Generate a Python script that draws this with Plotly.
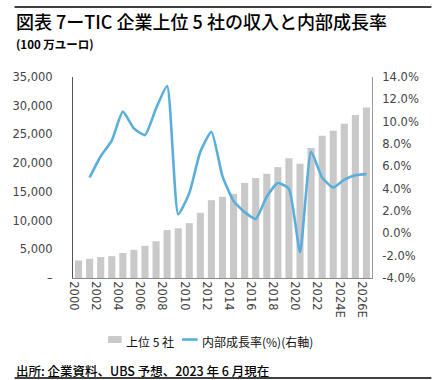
import plotly.graph_objects as go

years = ["2000","2001","2002","2003","2004","2005","2006","2007","2008","2009",
         "2010","2011","2012","2013","2014","2015","2016","2017","2018","2019",
         "2020","2021","2022","2023","2024E","2025E","2026E"]
revenue = [3050, 3350, 3650, 3800, 4350, 4900, 5600, 6400, 8350, 8650,
           9550, 11350, 13550, 14150, 14650, 16550, 17400, 18150, 19300, 20850,
           19900, 22650, 24750, 25650, 26850, 28400, 29700]
growth_years = years[1:]
growth = [5.0, 6.9, 8.3, 10.9, 9.4, 8.8, 11.2, 13.2, 1.7, 3.6,
          7.3, 9.1, 5.1, 2.9, 1.9, 1.3, 3.3, 4.5, 4.0, -1.7,
          7.3, 5.0, 4.1, 4.8, 5.2, 5.3]
left_ticks = [0, 5000, 10000, 15000, 20000, 25000, 30000, 35000]
left_labels = ["–", "5,000", "10,000", "15,000", "20,000", "25,000", "30,000", "35,000"]
right_ticks = [-4, -2, 0, 2, 4, 6, 8, 10, 12, 14]
right_labels = ["-4.0%", "-2.0%", "0.0%", "2.0%", "4.0%", "6.0%", "8.0%", "10.0%", "12.0%", "14.0%"]
shown_years = years[::2]
bar_name = "上位 5 社"
line_name = "内部成長率(%)(右軸)"

W, H = 443, 380
L, R, T, B = 65, 372, 77, 278
def px(x): return (x - L) / (R - L)
def py(y): return (B - y) / (B - T)

FONT = "Noto Sans CJK JP"
TICKFONT = dict(family="DejaVu Sans", size=11.5, color="#444444")
BAR_COLOR = "#c9c9c9"
LINE_COLOR = "#5aaedc"

fig = go.Figure()
fig.add_trace(go.Bar(x=years, y=revenue, name=bar_name, marker_color=BAR_COLOR,
                     marker_line_width=0, yaxis="y"))
fig.add_trace(go.Scatter(x=growth_years, y=growth, name=line_name, mode="lines",
                         line=dict(color=LINE_COLOR, width=2.6, shape="spline", smoothing=0.5),
                         yaxis="y2"))

fig.update_layout(
    width=W, height=H,
    margin=dict(l=L, r=W - R, t=T, b=H - B),
    paper_bgcolor="white", plot_bgcolor="white",
    font=dict(family=FONT, size=11, color="#404040"),
    bargap=0.36,
    showlegend=False,
    xaxis=dict(type="category", tickmode="array", tickvals=shown_years, ticktext=shown_years,
               tickangle=90, showline=True, linecolor="#888888", linewidth=1,
               showgrid=False, ticks="", tickfont=TICKFONT, ticklabelshift=-5),
    yaxis=dict(range=[0, 35000], tickvals=left_ticks, ticktext=left_labels,
               showline=True, linecolor="#555555", linewidth=1, showgrid=False,
               zeroline=False, ticks="outside", ticklen=17, tickcolor="rgba(0,0,0,0)",
               tickfont=TICKFONT),
    yaxis2=dict(range=[-4, 14], tickvals=right_ticks, ticktext=right_labels,
                overlaying="y", side="right", showline=True, linecolor="#999999",
                linewidth=1, showgrid=False, zeroline=False, ticks="outside", ticklen=7,
                tickcolor="rgba(0,0,0,0)", tickfont=TICKFONT),
)

annotations = [
    dict(text="図表 7ーTIC 企業上位 5 社の収入と内部成長率", x=px(4), y=py(21),
         font=dict(size=18, color="#000000", family=FONT, weight=500)),
    dict(text="<b>(100 万ユーロ)</b>", x=px(4), y=py(44),
         font=dict(size=11.5, color="#000000", family=FONT)),
    dict(text="出所: 企業資料、UBS 予想、2023 年 6 月現在", x=px(4), y=py(370),
         font=dict(size=12.5, color="#000000", family=FONT, weight=500)),
    dict(text=bar_name, x=px(117), y=py(341),
         font=dict(size=12, color="#111111", family=FONT)),
    dict(text=line_name, x=px(195), y=py(341),
         font=dict(size=12, color="#111111", family=FONT)),
]
for a in annotations:
    fig.add_annotation(xref="paper", yref="paper", xanchor="left", yanchor="middle",
                       showarrow=False, **a)

# legend swatches
fig.add_shape(type="rect", xref="paper", yref="paper", x0=px(101), x1=px(115),
              y0=py(343), y1=py(336), fillcolor=BAR_COLOR, line=dict(width=0))
fig.add_shape(type="line", xref="paper", yref="paper", x0=px(177), x1=px(193),
              y0=py(339.5), y1=py(339.5), line=dict(color=LINE_COLOR, width=2.6))

fig.add_shape(type="line", xref="paper", yref="paper", x0=px(5), x1=px(433),
              y0=py(7), y1=py(7), line=dict(color="#000000", width=1.5))
fig.add_shape(type="line", xref="paper", yref="paper", x0=px(5), x1=px(433),
              y0=py(378), y1=py(378), line=dict(color="#000000", width=1.5))

fig.write_html("out.html", config={"displayModeBar": False},
               post_script="document.body.style.margin='0';document.body.style.overflow='hidden';")
